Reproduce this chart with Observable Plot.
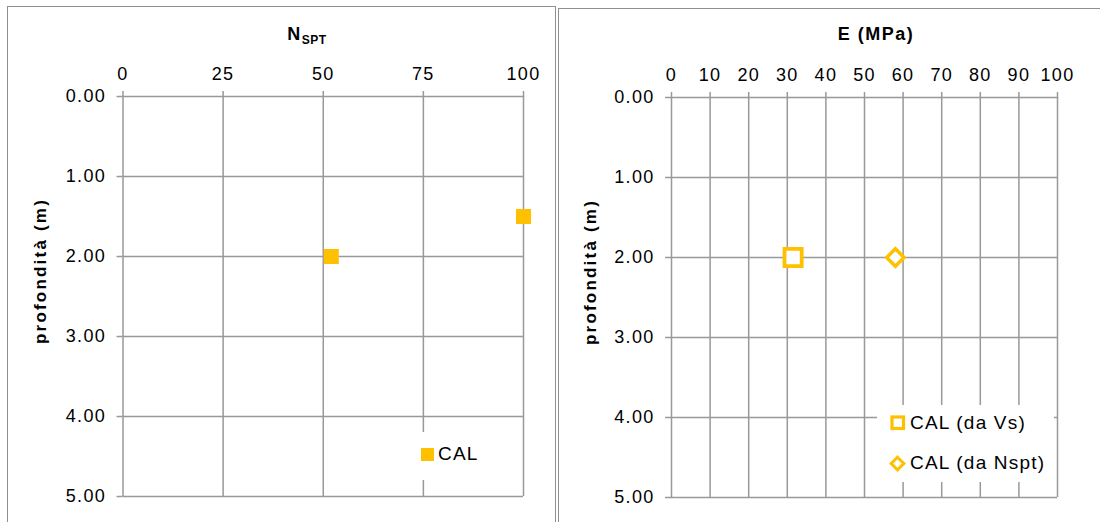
<!DOCTYPE html>
<html><head><meta charset="utf-8">
<script src="https://cdn.jsdelivr.net/npm/d3@7"></script>
<script src="https://cdn.jsdelivr.net/npm/@observablehq/plot@0.6"></script>
<style>
html,body{margin:0;padding:0;background:#fff;width:1100px;height:522px;overflow:hidden;}
body{position:relative;font-family:"Liberation Sans",Arial,sans-serif;color:#000;}
.panel{position:absolute;border:1.5px solid #8f8f8f;box-sizing:border-box;pointer-events:none;}
.plotwrap{position:absolute;top:0;}
.title{position:absolute;font-weight:bold;font-size:18px;letter-spacing:1.5px;line-height:18px;white-space:nowrap;transform:translateX(-50%);}
.title sub{font-size:12px;letter-spacing:0.5px;vertical-align:-4px;line-height:0;}
.ylab{position:absolute;font-weight:bold;font-size:17px;letter-spacing:2.2px;white-space:nowrap;transform:translate(-50%,-50%) rotate(-90deg);line-height:17px;}
.legend{position:absolute;background:#fff;font-size:19px;letter-spacing:1.2px;}
.row{position:absolute;display:flex;align-items:center;white-space:nowrap;}
.row svg{display:block;margin-right:4px;}
</style></head>
<body>
<div id="left" class="plotwrap" style="left:0px"></div>
<div id="right" class="plotwrap" style="left:556px"></div>

<div class="panel" style="left:7px;top:6px;width:549px;height:530px"></div>
<div class="panel" style="left:558px;top:8px;width:560px;height:530px"></div>

<div class="title" style="left:307px;top:25px">N<sub>SPT</sub></div>
<div class="title" style="left:876px;top:25px">E (MPa)</div>
<div class="ylab" style="left:40px;top:271px">profondità (m)</div>
<div class="ylab" style="left:590px;top:272px">profondità (m)</div>

<div class="legend" style="left:412px;top:432px;width:84px;height:48px">
  <div class="row" style="left:9px;top:11px">
    <svg width="13" height="13"><rect x="0" y="0" width="13" height="13" fill="#FFC000"/></svg><span>CAL</span>
  </div>
</div>
<div class="legend" style="left:877px;top:405px;width:177px;height:77px">
  <div class="row" style="left:13px;top:7px">
    <svg width="16" height="16"><rect x="2" y="2" width="11.5" height="11.5" fill="#fff" stroke="#FFC000" stroke-width="3.2"/></svg><span id="lg1"></span>
  </div>
  <div class="row" style="left:12px;top:47px">
    <svg width="17" height="17"><path d="M8.5,2.2L14.8,8.5L8.5,14.8L2.2,8.5Z" fill="#fff" stroke="#FFC000" stroke-width="3"/></svg><span id="lg2"></span>
  </div>
</div>

<script>
// ---- data ----
const nsptTicks = [0, 25, 50, 75, 100];
const eTicks = [0, 10, 20, 30, 40, 50, 60, 70, 80, 90, 100];
const depthTicks = [0, 1, 2, 3, 4, 5];

const nsptSeries = "CAL";
const nsptDepth = [1.5, 2.0];
const nsptValue = [100, 52];

const eSeries = ["CAL (da Vs)", "CAL (da Nspt)"];
const eDepth = [2.0, 2.0];
const eValue = [31.5, 58];

// ---- build rows ----
const nsptRows = nsptDepth.map((d, i) => ({series: nsptSeries, depth: d, value: nsptValue[i]}));
const eRows = eDepth.map((d, i) => ({series: eSeries[i], depth: d, value: eValue[i]}));

document.getElementById("lg1").textContent = eSeries[0];
document.getElementById("lg2").textContent = eSeries[1];

const gridColor = "#999999";
const gold = "#FFC000";
const baseStyle = {fontSize: "18px", fontFamily: "Liberation Sans, Arial, sans-serif", color: "#000", background: "transparent", overflow: "visible", letterSpacing: "1.3px"};

function panel(ticks, opts, marks) {
  return Plot.plot({
    width: opts.width, height: 522,
    marginLeft: opts.ml, marginRight: opts.mr, marginTop: opts.mt, marginBottom: opts.mb,
    style: baseStyle,
    x: {domain: [0, 100], label: null},
    y: {domain: [0, 5], reverse: true, label: null},
    marks: [
      Plot.gridX(ticks, {stroke: gridColor, strokeOpacity: 1, strokeWidth: 1.5}),
      Plot.gridY(depthTicks, {stroke: gridColor, strokeOpacity: 1, strokeWidth: 1.5}),
      Plot.axisX(ticks, {anchor: "top", tickSize: 6, tickPadding: 11, stroke: gridColor, strokeWidth: 1.5, fill: "#000", fontSize: 18, label: null}),
      Plot.axisY(depthTicks, {anchor: "left", tickSize: 6, tickPadding: 11, stroke: gridColor, strokeWidth: 1.5, fill: "#000", fontSize: 18, label: null, tickFormat: d => d.toFixed(2)}),
      ...marks
    ]
  });
}

const leftPlot = panel(nsptTicks, {width: 556, ml: 122.5, mr: 33, mt: 96, mb: 26}, [
  Plot.dot(nsptRows, {x: "value", y: "depth", symbol: "square", fill: gold, r: 8.5})
]);
document.getElementById("left").appendChild(leftPlot);

const rightPlot = panel(eTicks, {width: 544, ml: 115, mr: 43, mt: 97, mb: 25}, [
  Plot.dot(eRows.filter(d => d.series === eSeries[0]), {x: "value", y: "depth", symbol: "square", fill: "#fff", stroke: gold, strokeWidth: 3.8, r: 9.7}),
  Plot.dot(eRows.filter(d => d.series === eSeries[1]), {x: "value", y: "depth", symbol: "diamond2", fill: "#fff", stroke: gold, strokeWidth: 3.5, strokeLinejoin: "miter", r: 7.8})
]);
document.getElementById("right").appendChild(rightPlot);
</script>
</body></html>
